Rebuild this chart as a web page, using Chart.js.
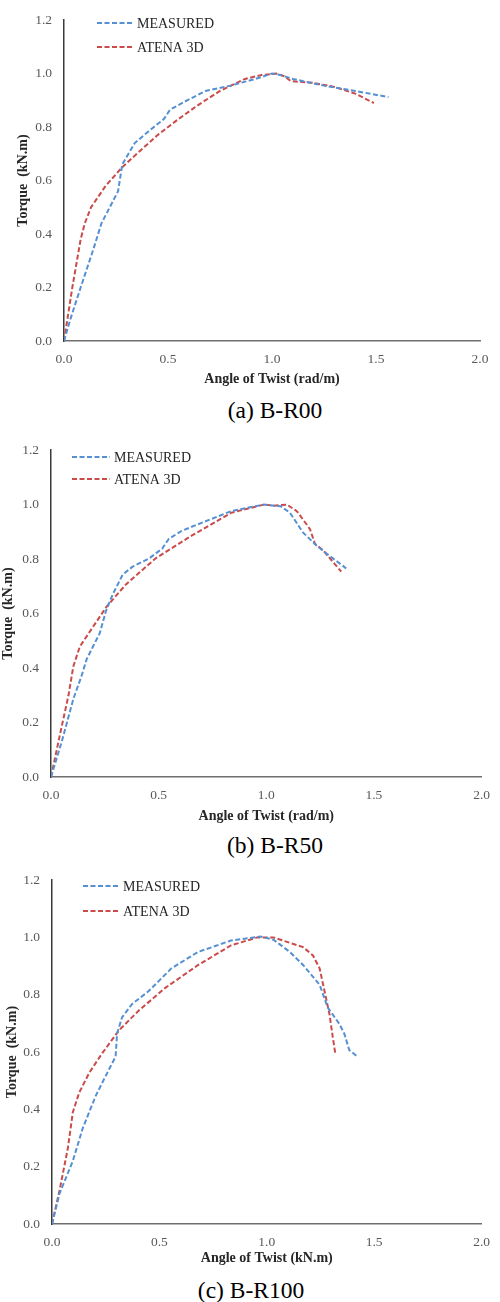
<!DOCTYPE html>
<html>
<head>
<meta charset="utf-8">
<script src="https://cdn.jsdelivr.net/npm/chart.js@4.4.1/dist/chart.umd.min.js"></script>
<style>
  body { margin: 0; background: #fff; width: 500px; height: 1302px; position: relative; overflow: hidden; }
  .panel { position: absolute; left: 0; width: 500px; }
  .caption { position: absolute; font-family: "Liberation Serif", serif; font-size: 23.5px; color: #000; transform: translate(-50%, -50%); white-space: nowrap; }
</style>
</head>
<body>
<div class="panel" id="pa"><canvas id="chartA"></canvas></div>
<div class="panel" id="pb"><canvas id="chartB"></canvas></div>
<div class="panel" id="pc"><canvas id="chartC"></canvas></div>
<div class="caption" style="left:275px; top:410px">(a) B-R00</div>
<div class="caption" style="left:275px; top:845px">(b) B-R50</div>
<div class="caption" style="left:251px; top:1290px">(c) B-R100</div>

<script>
// Data: [angle of twist, torque]
const measuredA = [[0,0],[0.03,0.08],[0.08,0.2],[0.14,0.34],[0.18,0.44],[0.22,0.5],[0.26,0.56],[0.28,0.66],[0.34,0.74],[0.40,0.78],[0.48,0.83],[0.51,0.865],[0.58,0.895],[0.68,0.935],[0.80,0.955],[0.92,0.98],[1.00,1.0],[1.04,0.995],[1.10,0.98],[1.25,0.955],[1.40,0.935],[1.56,0.912]];
const atenaA = [[0,0],[0.04,0.2],[0.08,0.38],[0.1,0.44],[0.13,0.5],[0.2,0.58],[0.28,0.65],[0.35,0.7],[0.45,0.77],[0.55,0.83],[0.65,0.885],[0.75,0.935],[0.87,0.98],[0.95,0.995],[1.02,1.0],[1.06,0.99],[1.09,0.972],[1.2,0.965],[1.3,0.95],[1.4,0.925],[1.49,0.89]];

const measuredB = [[0,0],[0.05,0.13],[0.104,0.287],[0.142,0.371],[0.165,0.431],[0.195,0.479],[0.226,0.527],[0.256,0.611],[0.287,0.671],[0.333,0.743],[0.379,0.772],[0.455,0.802],[0.516,0.838],[0.547,0.874],[0.608,0.904],[0.684,0.928],[0.837,0.976],[0.989,1.0],[1.066,0.994],[1.11,0.97],[1.17,0.898],[1.233,0.85],[1.28,0.82],[1.371,0.766]];
const atenaB = [[0,0],[0.04,0.15],[0.081,0.299],[0.104,0.407],[0.134,0.479],[0.195,0.551],[0.256,0.623],[0.348,0.707],[0.485,0.802],[0.653,0.886],[0.837,0.97],[0.989,1.0],[1.035,0.996],[1.096,1.0],[1.142,0.976],[1.203,0.91],[1.226,0.856],[1.264,0.832],[1.348,0.754]];

const measuredC = [[0,0],[0.035,0.106],[0.097,0.22],[0.143,0.334],[0.204,0.448],[0.265,0.539],[0.296,0.584],[0.303,0.664],[0.326,0.721],[0.372,0.767],[0.449,0.812],[0.556,0.892],[0.679,0.949],[0.833,0.989],[0.97,1.003],[1.031,0.992],[1.108,0.949],[1.17,0.903],[1.246,0.835],[1.284,0.755],[1.338,0.698],[1.361,0.664],[1.384,0.607],[1.422,0.584]];
const atenaC = [[0,0],[0.035,0.117],[0.074,0.265],[0.097,0.39],[0.127,0.459],[0.173,0.527],[0.234,0.596],[0.311,0.675],[0.403,0.744],[0.526,0.823],[0.679,0.903],[0.833,0.972],[0.955,1.0],[1.031,1.0],[1.169,0.966],[1.215,0.937],[1.246,0.892],[1.269,0.812],[1.292,0.732],[1.307,0.653],[1.32,0.59]];

const seriesNames = ['MEASURED', 'ATENA 3D'];
const xTicks = [0, 0.5, 1.0, 1.5, 2.0];
const yTicks = [0, 0.2, 0.4, 0.6, 0.8, 1.0, 1.2];

const BLUE = '#5590d2';
const RED = '#cb4a4a';
const SERIF = '"Liberation Serif", "Times New Roman", serif';

// legend drawn inside the plot, at fixed spots
const inLegend = {
  id: 'inLegend',
  afterDraw(chart, args, opts) {
    const ctx = chart.ctx;
    ctx.save();
    chart.data.datasets.forEach((ds, i) => {
      const y = opts.ys[i];
      ctx.beginPath();
      ctx.strokeStyle = ds.borderColor;
      ctx.lineWidth = ds.borderWidth;
      ctx.setLineDash(ds.borderDash);
      ctx.moveTo(opts.x1, y);
      ctx.lineTo(opts.x2, y);
      ctx.stroke();
      ctx.setLineDash([]);
      ctx.fillStyle = '#262626';
      ctx.font = '14px ' + SERIF;
      ctx.textBaseline = 'middle';
      ctx.fillText(ds.label, opts.tx, y + 1);
    });
    ctx.restore();
  }
};

function toPts(arr) { return arr.map(p => ({x: p[0], y: p[1]})); }

function makeChart(id, p) {
  const wrap = document.getElementById(id).parentNode;
  wrap.style.top = p.top + 'px';
  wrap.style.height = p.h + 'px';
  const lh = 14 * 1.2;
  return new Chart(document.getElementById(id), {
    type: 'line',
    data: {
      datasets: [
        { label: seriesNames[0], data: toPts(p.measured), borderColor: BLUE, borderWidth: 2, borderDash: [5, 2.5], pointRadius: 0, tension: 0, fill: false },
        { label: seriesNames[1], data: toPts(p.atena), borderColor: RED, borderWidth: 2, borderDash: [5, 2.5], pointRadius: 0, tension: 0, fill: false }
      ]
    },
    options: {
      responsive: true,
      maintainAspectRatio: false,
      animation: false,
      layout: { padding: { top: p.areaTop - p.top, right: 500 - p.areaRight, left: 0, bottom: 0 } },
      plugins: {
        legend: { display: false },
        tooltip: { enabled: false },
        inLegend: p.legend
      },
      scales: {
        x: {
          type: 'linear', min: 0, max: 2,
          afterBuildTicks: s => { s.ticks = xTicks.map(v => ({value: v})); },
          afterFit: s => { s.height = p.top + p.h - p.areaBottom; },
          grid: { display: false, drawTicks: false },
          border: { display: true, color: '#6e6e6e', width: 1.5 },
          ticks: { padding: 10, color: '#595959', font: { family: SERIF, size: 13.5 }, callback: v => v.toFixed(1) },
          title: { display: true, text: p.xTitle, color: '#262626', font: { family: SERIF, size: 14, weight: 'bold' },
                   padding: { top: 0, bottom: p.top + p.h - p.xTitleY - lh / 2 } }
        },
        y: {
          type: 'linear', min: 0, max: 1.2,
          afterBuildTicks: s => { s.ticks = yTicks.map(v => ({value: v})); },
          afterFit: s => { s.width = p.areaLeft; },
          grid: { display: false, drawTicks: false },
          border: { display: true, color: '#3a3a3a', width: 1.5 },
          ticks: { padding: 12, color: '#595959', font: { family: SERIF, size: 13.5 }, callback: v => v.toFixed(1) },
          title: { display: true, text: 'Torque  (kN.m)', color: '#262626', font: { family: SERIF, size: 14, weight: 'bold' },
                   padding: { top: Math.max(0, p.yTitleX - lh / 2), bottom: 0 } }
        }
      }
    },
    plugins: [inLegend]
  });
}

makeChart('chartA', {
  top: 0, h: 395, areaTop: 15, areaBottom: 341, areaLeft: 64, areaRight: 480,
  xTitleY: 379, yTitleX: 23, xTitle: 'Angle of Twist (rad/m)',
  measured: measuredA, atena: atenaA,
  legend: { x1: 97, x2: 133, tx: 137, ys: [23, 47] }
});
makeChart('chartB', {
  top: 430, h: 395, areaTop: 443, areaBottom: 777, areaLeft: 51, areaRight: 487,
  xTitleY: 816, yTitleX: 8, xTitle: 'Angle of Twist (rad/m)',
  measured: measuredB, atena: atenaB,
  legend: { x1: 72, x2: 110, tx: 114, ys: [27, 49] }
});
makeChart('chartC', {
  top: 860, h: 410, areaTop: 874, areaBottom: 1224, areaLeft: 52, areaRight: 487,
  xTitleY: 1258, yTitleX: 12, xTitle: 'Angle of Twist (kN.m)',
  measured: measuredC, atena: atenaC,
  legend: { x1: 83, x2: 119, tx: 123, ys: [26, 51] }
});
</script>
</body>
</html>
